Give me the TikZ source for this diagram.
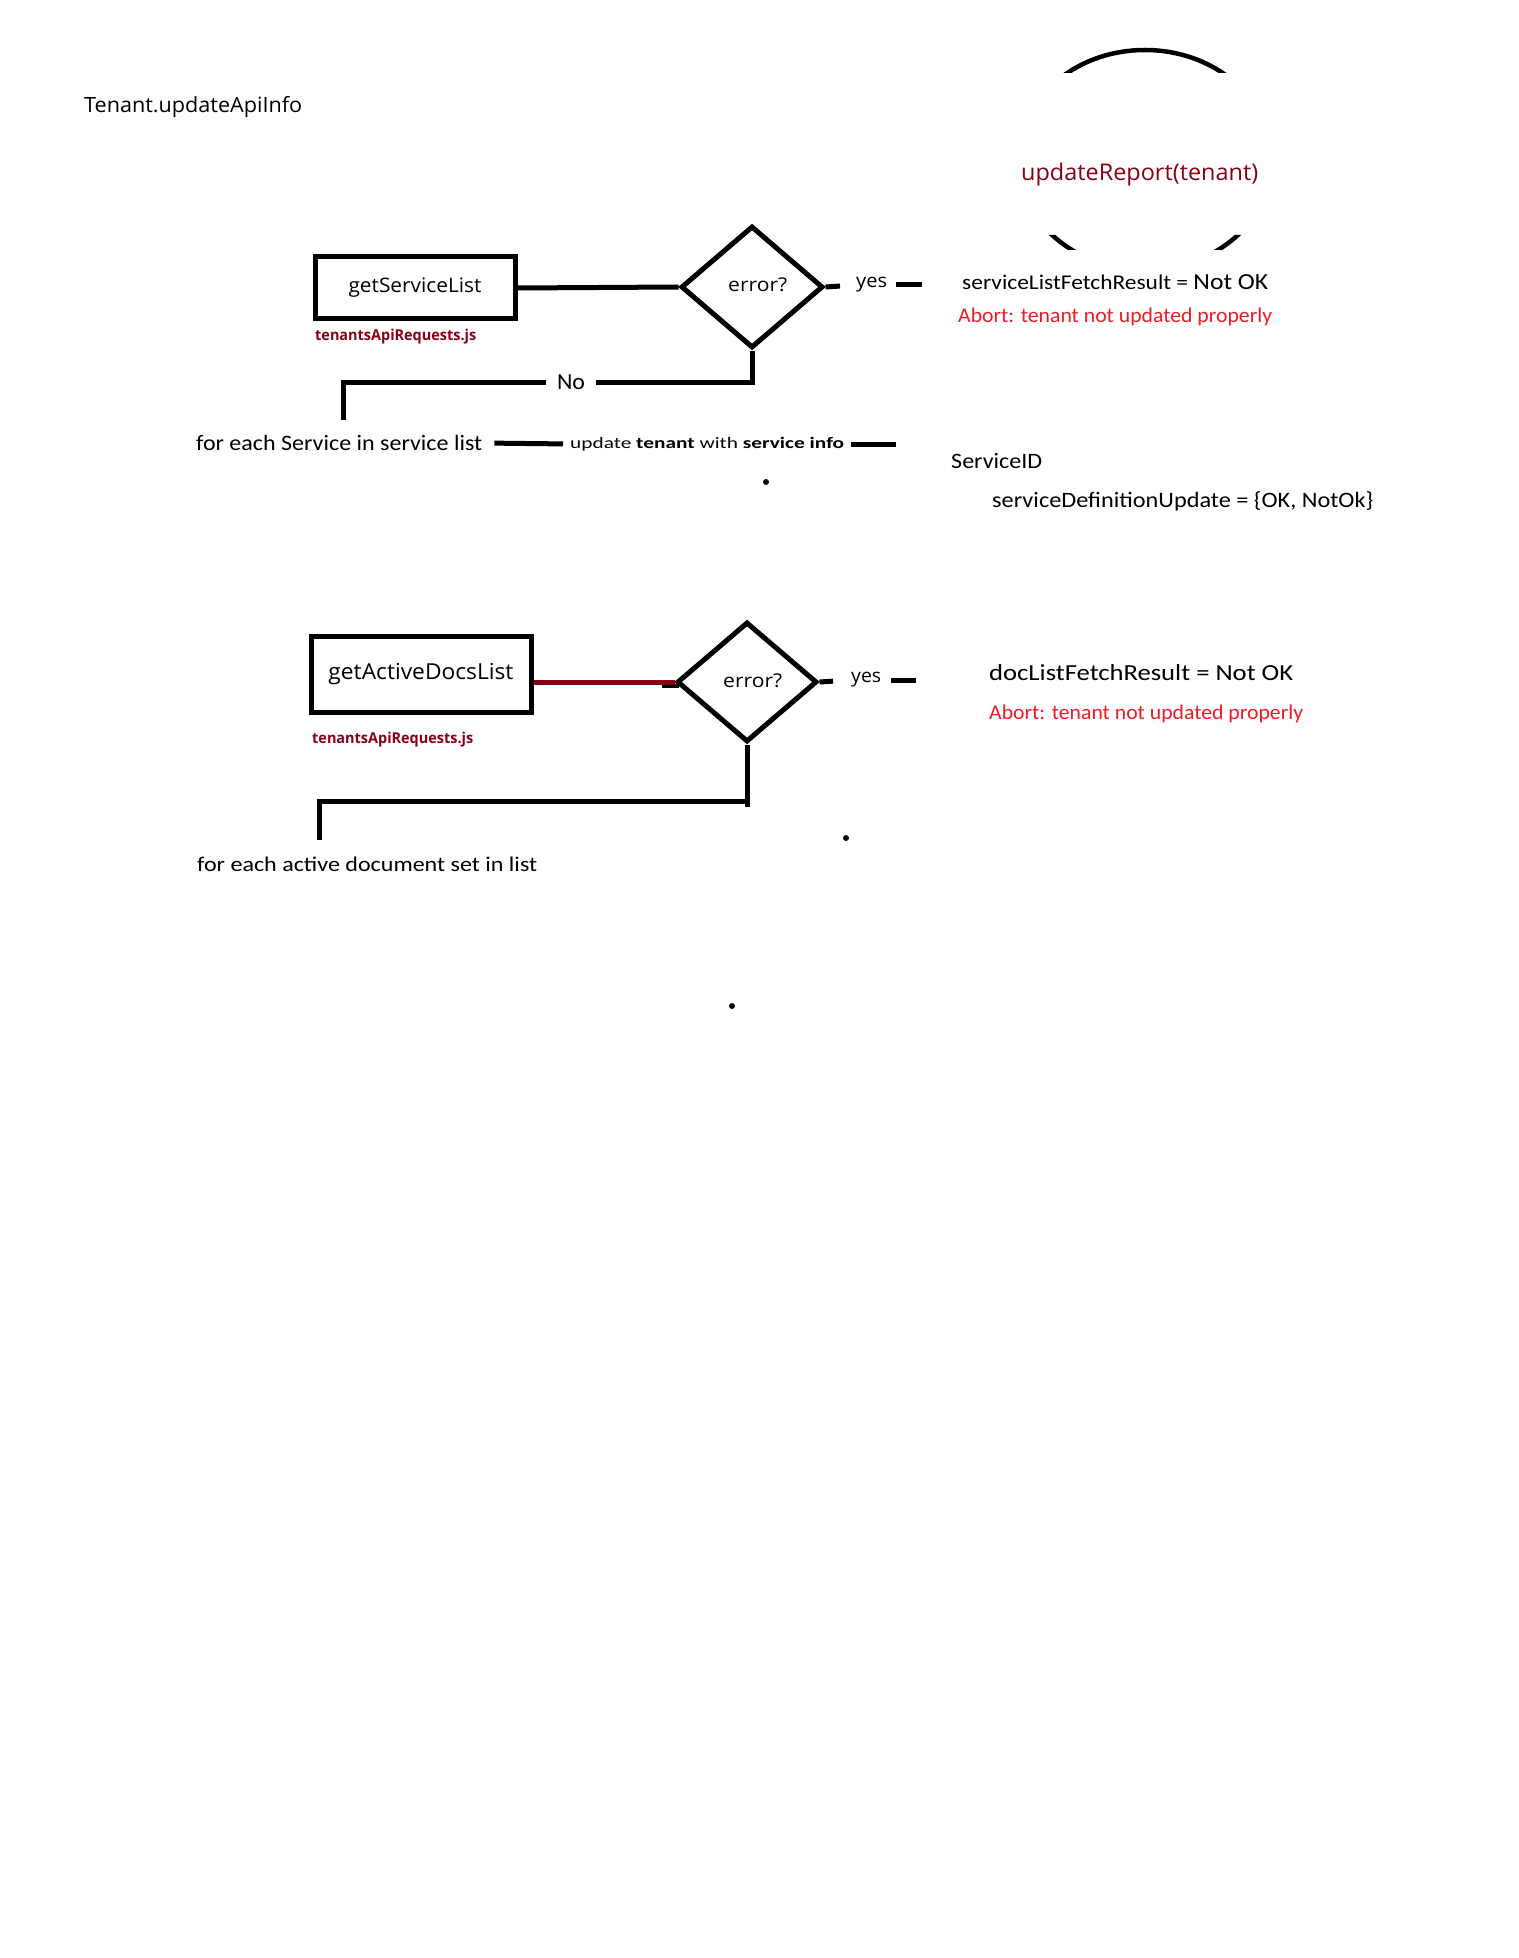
\documentclass[tikz,border=0pt]{standalone}
\usepackage{fontspec}
\usepackage{graphicx}
\usetikzlibrary{shapes.geometric}
\setmainfont{Open Sans}
\newfontfamily\cond{Carlito}
\definecolor{darkred}{HTML}{880015}
\definecolor{abortred}{HTML}{ED1C24}
% set text at a given size and stretch it to a fixed width
\newcommand{\fitw}[2]{\resizebox{#1pt}{\height}{#2}}
\newcommand{\sz}[1]{\fontsize{#1}{#1}\selectfont}
\tikzset{
  txt/.style={inner sep=0pt, anchor=west},
  flow/.style={line width=5pt, line join=miter},
  procbox/.style={draw, rectangle, line width=5pt, inner sep=0pt},
  decision/.style={draw, diamond, line width=5pt, inner sep=0pt},
  dot/.style={fill=black}
}
\begin{document}
\begin{tikzpicture}[x=1pt, y=-1pt]
\fill[white] (0,0) rectangle (1518,1958);
\useasboundingbox (0,0) rectangle (1518,1958);

% title
\node[txt] (title) at (84,107) {\fitw{218}{\sz{21}Tenant.updateApiInfo}};

% report ellipse, partly hidden behind the text blocks
\begin{scope}
  \clip (1000,0) rectangle (1300,73) (1000,235) rectangle (1300,250);
  \draw[line width=4.5pt] (1145,160) ellipse [x radius=127, y radius=110];
\end{scope}
\node[txt, text=darkred] (report) at (1021,175) {\fitw{237}{\sz{23}updateReport(tenant)}};

% ---- service list branch ----
\node[procbox, minimum width=200pt, minimum height=62pt] (svcbox) at (415,288)
  {\fitw{133}{\sz{20}getServiceList}};
\node[txt, text=darkred] (src1) at (315,337) {\fitw{161}{\sz{15}\bfseries tenantsApiRequests.js}};
\node[decision, minimum width=142pt, minimum height=122pt] (dia1) at (752,287) {};
\node[txt] (q1) at (728,285) {\fitw{59}{\sz{19}error?}};
\node[txt] (yes1) at (856,285) {\fitw{31}{\sz{19}yes}};
\coordinate (yes1end) at (922,285);
\node[txt] (fetch1) at (962,282) {\fitw{306}{\cond\sz{21}serviceListFetchResult = \sz{23}Not OK}};
\node[txt, text=abortred] (abort1) at (958,317) {\fitw{314}{\cond\sz{21}Abort: tenant not updated properly}};

\node[inner ysep=0pt, inner xsep=11pt] (no1) at (571,382) {\fitw{28}{\cond\sz{23}No}};
\coordinate (svcdrop) at (343,420);
\node[txt] (forsvc) at (196,443) {\fitw{286}{\cond\sz{22}for each Service in service list}};
\node[txt] (upd) at (570,444) {\fitw{274}{\cond\sz{16}update \textbf{tenant} with \textbf{service info}}};
\coordinate (updend) at (896,444);
\node[txt] (sid) at (951,461) {\fitw{91}{\cond\sz{22}ServiceID}};
\node[txt] (sdu) at (992,501) {\fitw{381}{\cond\sz{22}serviceDefinitionUpdate = \{OK, NotOk\}}};

\draw[flow] (svcbox.east) -- (dia1.west);
\draw[flow, shorten >=16pt] (dia1.east) -- (yes1.west);
\draw[flow, shorten <=9pt] (yes1.east) -- (yes1end);
\draw[flow] (dia1.south) |- (no1.east);
\draw[flow] (no1.west) -| (svcdrop);
\draw[flow, shorten <=12pt, shorten >=7pt] (forsvc.east) -- (upd.west);
\draw[flow, shorten <=7pt] (upd.east) -- (updend);

% ---- active docs branch ----
\node[procbox, minimum width=220pt, minimum height=76pt] (docbox) at (421,674)
  {\fitw{185}{\sz{22}getActiveDocsList}};
\node[txt, text=darkred] (src2) at (312,740) {\fitw{161}{\sz{15}\bfseries tenantsApiRequests.js}};
\node[decision, minimum width=140pt, minimum height=120pt] (dia2) at (747,682) {};
\node[txt] (q2) at (723,681) {\fitw{59}{\sz{19}error?}};
\node[txt] (yes2) at (851,680) {\fitw{30}{\sz{19}yes}};
\coordinate (yes2end) at (916,680);
\node[txt] (fetch2) at (989,673) {\fitw{304}{\cond\sz{23}docListFetchResult = Not OK}};
\node[txt, text=abortred] (abort2) at (989,714) {\fitw{314}{\cond\sz{21}Abort: tenant not updated properly}};
\coordinate (dia2foot) at (747,807);
\coordinate (dia2turn) at (747,801);
\coordinate (docdrop) at (319,840);
\node[txt] (fordoc) at (197,864) {\fitw{340}{\cond\sz{21}for each active document set in list}};

\coordinate (stubA) at (662,685.5);
\coordinate (stubB) at (679,685.5);
\draw[line width=4pt] (stubA) -- (stubB);
\draw[flow, darkred] (docbox.east |- dia2.west) -- (dia2.west);
\draw[flow, shorten >=18pt] (dia2.east) -- (yes2.west);
\draw[flow, shorten <=10pt] (yes2.east) -- (yes2end);
\draw[flow] (dia2.south) -- (dia2foot);
\draw[flow] (dia2turn) -| (docdrop);

% stray dots
\fill[dot] (766,482) circle (3);
\fill[dot] (846,838) circle (3);
\fill[dot] (732,1006) circle (3);
\end{tikzpicture}
\end{document}
